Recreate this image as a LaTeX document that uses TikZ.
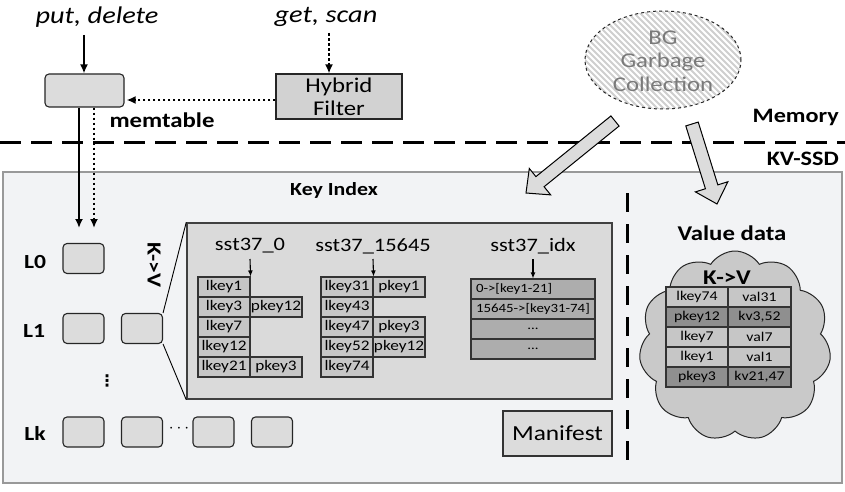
\documentclass[tikz,border=0pt]{standalone}
\usepackage{fontspec}
\setmainfont[FakeStretch=1.18]{Carlito}
\newfontfamily\symfont{DejaVu Sans}
\usetikzlibrary{arrows.meta,calc,shapes.geometric,shapes.symbols}

\definecolor{ssdbg}{HTML}{F2F3F5}
\definecolor{boxfill}{HTML}{DCDCDC}
\definecolor{panelfill}{HTML}{DADADA}
\definecolor{keyfill}{HTML}{C6C6C6}
\definecolor{idxfill}{HTML}{ADADAD}
\definecolor{valdark}{HTML}{8F8F8F}
\definecolor{cloudfill}{HTML}{C9C9C9}
\definecolor{hybfill}{HTML}{D2D2D2}
\definecolor{hatch}{HTML}{CFCFCF}

\newcommand{\fsz}[1]{\fontsize{#1}{#1}\selectfont}

% hollow block arrow from #1 (tail) to #2 (tip)
\newcommand{\blockarrow}[2]{%
  \path ($(#2)!18pt!(#1)$) coordinate (ba-hb);
  \draw[blockarr]
    ($(#1)!6.5pt!90:(#2)$) -- ($(ba-hb)!6.5pt!90:(#2)$) --
    ($(ba-hb)!17pt!90:(#2)$) -- (#2) --
    ($(ba-hb)!17pt!-90:(#2)$) -- ($(ba-hb)!6.5pt!-90:(#2)$) --
    ($(#1)!6.5pt!-90:(#2)$) -- cycle;}

\tikzset{
  lvl/.style={draw=black!85, fill=boxfill, rounded corners=4pt, line width=1.1pt,
    minimum width=41pt, minimum height=30pt, inner sep=0pt},
  cell/.style={draw=black!80, line width=1.1pt, fill=keyfill, minimum width=52pt,
    minimum height=20pt, inner sep=0pt, font=\fsz{14.6}},
  idxcell/.style={draw=black!80, line width=1.1pt, fill=idxfill, minimum width=124pt,
    minimum height=20pt, inner xsep=5pt, inner ysep=0pt, text width=114pt,
    align=left, font=\fsz{12.6}},
  vcell/.style={draw=black!80, line width=1.1pt, minimum height=20pt, inner sep=0pt,
    font=\fsz{13.4}},
  solidarr/.style={line width=2.2pt, -{Latex[length=9pt,width=8pt]}},
  dotarr/.style={line width=2.6pt, dash pattern=on 2.6pt off 2.4pt,
    -{Latex[length=9pt,width=8pt]}},
  smallarr/.style={line width=1.1pt, -{Latex[length=6pt,width=5pt]}},
  blockarr/.style={draw=black, line width=1pt, fill=boxfill, line join=miter},
  boldlbl/.style={font=\bfseries\fsz{20}, inner sep=0pt},
  ssttitle/.style={font=\fsz{19}, inner sep=0pt},
}

\begin{document}
\begin{tikzpicture}[x=1pt,y=-1pt]
\useasboundingbox[fill=white] (0,0) rectangle (845,492);

% ---------------- memory side ----------------
\node[font=\itshape\fsz{24}, inner sep=0pt] (putlbl) at (97,17) {put, delete};
\node[font=\itshape\fsz{24}, inner sep=0pt] (getlbl) at (326,17) {get, scan};

\node[draw=black!85, fill=boxfill, rounded corners=4pt, line width=1.1pt,
  minimum width=79pt, minimum height=33pt, inner sep=0pt] (mem) at (84.5,90.5) {};
\node[draw=black!85, fill=hybfill, line width=1.1pt, minimum width=126pt,
  minimum height=45pt, inner sep=0pt, align=center, font=\fsz{21}]
  (hyb) at (339,96.5) {Hybrid\\[2pt]Filter};
\node[font=\bfseries\fsz{21}, inner sep=0pt] (memlbl) at (162,120) {memtable};

\coordinate (put-src) at (84,35);
\coordinate (get-src) at (329,33);
\draw[solidarr] (put-src) -- (put-src |- mem.north);
\draw[dotarr] (get-src) -- (get-src |- hyb.north);
\draw[dotarr] (hyb.west |- 0,100) -- ([xshift=2pt]mem.east |- 0,100);

% BG garbage collection: hatched, dashed ellipse
\begin{scope}
  \clip (663,60) ellipse [x radius=78pt, y radius=49pt];
  \foreach \d in {-150,-144,...,150}
    \draw[hatch, line width=1.9pt] (663+\d-60,0) -- (663+\d+60,120);
\end{scope}
\node[ellipse, draw=black!85, dashed, line width=1pt, minimum width=156pt,
  minimum height=98pt, inner sep=0pt] (gc) at (663,60) {};
\node[text=black!52, align=center, font=\fsz{21}, inner sep=0pt] (gclbl) at (663,61)
  {BG\\[2.5pt]Garbage\\[2.5pt]Collection};

% memory / device boundary
\draw[line width=3pt, dash pattern=on 21pt off 10pt] (0,142) -- (845,142);
\node[boldlbl, font=\bfseries\fsz{20.5}, anchor=east] (memory) at (839,117) {Memory};
\node[boldlbl, font=\bfseries\fsz{20.5}, anchor=east] (kvssd) at (839,159) {KV-SSD};

% ---------------- KV-SSD ----------------
\node[draw=black!40, fill=ssdbg, line width=1.2pt, minimum width=839pt,
  minimum height=311pt, inner sep=0pt] (ssd) at (422.5,327.5) {};

\node[boldlbl, font=\bfseries\fsz{18.5}] (keyidx) at (334,190) {Key Index};
\node[boldlbl, font=\bfseries\fsz{21}] (valdata) at (732,233) {Value data};
\draw[line width=3pt, dash pattern=on 19pt off 12pt] (627,193) -- (627,465);

% flush / lookup paths into L0
\coordinate (l0-in-solid) at (79,228);
\coordinate (l0-in-dot) at (94,228);
\draw[solidarr] (mem.south -| l0-in-solid) -- (l0-in-solid);
\draw[dotarr] (mem.south -| l0-in-dot) -- (l0-in-dot);

% levels
\node[boldlbl] (L0) at (35,262) {L0};
\node[boldlbl] (L1) at (34,331) {L1};
\node[boldlbl] (Lk) at (35,433) {Lk};
\node[lvl] (l0a) at (83.5,258.5) {};
\node[lvl] (l1a) at (83.5,328.5) {};
\node[lvl] (l1b) at (142,328.5) {};
\node[lvl] (lka) at (83.5,432) {};
\node[lvl] (lkb) at (142,432) {};
\node[lvl] (lkc) at (213.5,432) {};
\node[lvl] (lkd) at (272,432) {};
\node[font=\symfont\bfseries\fsz{16}, inner sep=0pt] (vdots) at (107,381) {⋮};
\node[font=\fsz{18}, inner sep=0pt] (hdots) at (179,429) {$\cdots$};
\node[boldlbl, font=\bfseries\fsz{20}, rotate=-90] (kvrot) at (154,265) {K->V};

% zoomed SSTable panel
\node[draw=black!75, fill=panelfill, line width=1.5pt, minimum width=425pt,
  minimum height=176pt, inner sep=0pt] (panel) at (399.5,311) {};
\draw[line width=0.9pt] (l1b.north east) -- (panel.north west);
\draw[line width=0.9pt] (l1b.south east) -- (panel.south west);

% sst37_0
\node[ssttitle] (t0) at (250,246) {sst37\_0};
\foreach \k [count=\i] in {lkey1,lkey3,lkey7,lkey12,lkey21}
  \node[cell] (a-k\i) at (224,267+20*\i) {\k};
\node[cell] (a-p2) at (276,307) {pkey12};
\node[cell] (a-p5) at (276,367) {pkey3};
\draw[smallarr] (250,259) -- (a-k1.north east);

% sst37_15645
\node[ssttitle] (t1) at (373,246) {sst37\_15645};
\foreach \k [count=\i] in {lkey31,lkey43,lkey47,lkey52,lkey74}
  \node[cell] (b-k\i) at (347,267+20*\i) {\k};
\node[cell] (b-p1) at (399,287) {pkey1};
\node[cell] (b-p3) at (399,327) {pkey3};
\node[cell] (b-p4) at (399,347) {pkey12};
\draw[smallarr] (373,259) -- (b-k1.north east);

% sst37_idx
\node[ssttitle] (t2) at (533,246) {sst37\_idx};
\node[idxcell] (i1) at (533,289) {0->[key1-21]};
\node[idxcell] (i2) at (533,309) {15645->[key31-74]};
\node[idxcell, align=center] (i3) at (533,329) {...};
\node[idxcell, align=center] (i4) at (533,349) {...};
\draw[smallarr] (533,259) -- (i1.north);

% manifest
\node[draw=black!80, fill=boxfill, line width=1.1pt, minimum width=109pt,
  minimum height=45pt, inner sep=0pt, font=\fsz{21.5}] (manifest) at (557.5,433.5) {Manifest};

% value log cloud
\node[cloud, cloud puffs=11, cloud puff arc=115, draw=black!85,
  line width=1pt, fill=cloudfill, minimum width=192pt, minimum height=190pt,
  inner sep=0pt] (cloud) at (735,346) {};
\node[boldlbl, font=\bfseries\fsz{21}] (kvcloud) at (727,278) {K->V};
\foreach \k/\v/\f [count=\i] in {lkey74/val31/keyfill, pkey12/kv3{,}52/valdark,
    lkey7/val7/keyfill, lkey1/val1/keyfill, pkey3/kv21{,}47/valdark} {
  \node[vcell, fill=\f, minimum width=62pt] (v-k\i) at (697,277+20*\i) {\k};
  \node[vcell, fill=\f, minimum width=63pt] (v-v\i) at (759.5,277+20*\i) {\v};
}

% garbage collection arrows
\coordinate (gc-out1) at (615,121);
\coordinate (gc-in1) at (526,193);
\coordinate (gc-out2) at (692,124);
\coordinate (gc-in2) at (717,204);
\blockarrow{gc-out1}{gc-in1}
\blockarrow{gc-out2}{gc-in2}
\end{tikzpicture}
\end{document}
